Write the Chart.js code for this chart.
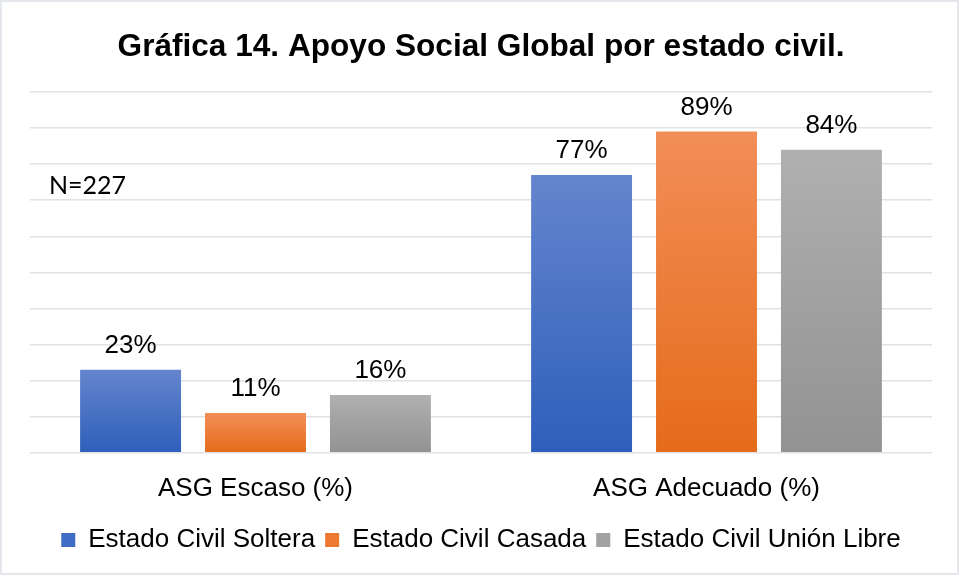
<!DOCTYPE html>
<html>
<head>
<meta charset="utf-8">
<script src="https://cdn.jsdelivr.net/npm/chart.js@4.4.1/dist/chart.umd.min.js"></script>
<style>
  html, body { margin: 0; padding: 0; background: #fff; }
  #wrap { position: relative; width: 959px; height: 575px; }
  #frame { position: absolute; left: 0; top: 0; width: 959px; height: 575px; box-sizing: border-box;
           border: 2px solid #e4e7eb; pointer-events: none; }
</style>
</head>
<body>
<div id="wrap">
  <canvas id="grafico" width="959" height="575"></canvas>
  <div id="frame"></div>
</div>
<script>
const categorias = ["ASG Escaso (%)", "ASG Adecuado (%)"];
const soltera = [23, 77];
const casada = [11, 89];
const unionLibre = [16, 84];
const series = ["Estado Civil Soltera", "Estado Civil Casada", "Estado Civil Unión Libre"];
const muestra = "N=227";

const fuente = "'Liberation Sans', Arial, sans-serif";

// degradado de arriba (claro) hacia abajo (oscuro) en cada barra
function degradado(arriba, abajo) {
    return (c) => {
        const chart = c.chart;
        if (!chart.chartArea || c.type !== 'data') return abajo;
        const y = chart.scales.y;
        const top = y.getPixelForValue(c.raw);
        const base = y.getPixelForValue(0);
        if (!isFinite(top) || top === base) return abajo;
        const g = chart.ctx.createLinearGradient(0, top, 0, base);
        g.addColorStop(0, arriba);
        g.addColorStop(1, abajo);
        return g;
    };
}

const solidos = ["#3f6cc4", "#ed7a30", "#a2a2a2"];

// etiquetas de valor y texto N=227
const etiquetas = {
    id: 'etiquetas',
    afterDatasetsDraw(chart) {
        const ctx = chart.ctx;
        ctx.save();
        ctx.fillStyle = "#000";
        ctx.font = "26px " + fuente;
        ctx.textAlign = "center";
        ctx.textBaseline = "alphabetic";
        chart.data.datasets.forEach((ds, i) => {
            const meta = chart.getDatasetMeta(i);
            meta.data.forEach((bar, j) => {
                ctx.fillText(ds.data[j] + "%", bar.x, bar.y - 17);
            });
        });
        ctx.font = "25px Lato, 'Open Sans', sans-serif";
        ctx.textAlign = "left";
        ctx.textBaseline = "middle";
        ctx.fillText(muestra, 49, 186);
        ctx.restore();
    }
};

let ctx = document.getElementById("grafico").getContext("2d");

new Chart(ctx, {
    type: "bar",
    data: {
        labels: categorias,
        datasets: [{
            label: series[0],
            data: soltera,
            backgroundColor: degradado("#6585cd", "#2d5fba"),
            categoryPercentage: 0.831,
            barPercentage: 0.808
        }, {
            label: series[1],
            data: casada,
            backgroundColor: degradado("#f28e57", "#e56b1a"),
            categoryPercentage: 0.831,
            barPercentage: 0.808
        }, {
            label: series[2],
            data: unionLibre,
            backgroundColor: degradado("#b0b0b0", "#929292"),
            categoryPercentage: 0.831,
            barPercentage: 0.808
        }]
    },
    options: {
        responsive: false,
        animation: false,
        layout: {
            padding: { left: 30, right: 27, top: 0, bottom: 12 }
        },
        plugins: {
            title: {
                display: true,
                text: "Gráfica 14. Apoyo Social Global por estado civil.",
                color: "#000",
                font: { family: fuente, size: 31.6, weight: "bold" },
                padding: { top: 28, bottom: 26 }
            },
            legend: {
                position: "bottom",
                labels: {
                    color: "#000",
                    boxWidth: 14,
                    boxHeight: 14,
                    padding: 10,
                    font: { family: fuente, size: 26 },
                    generateLabels(chart) {
                        return chart.data.datasets.map((ds, i) => ({
                            text: ds.label,
                            fillStyle: solidos[i],
                            strokeStyle: solidos[i],
                            lineWidth: 0,
                            hidden: false,
                            datasetIndex: i,
                            fontColor: "#000"
                        }));
                    }
                }
            },
            tooltip: { enabled: false }
        },
        scales: {
            x: {
                grid: { display: false, drawTicks: false },
                border: { display: false },
                ticks: {
                    color: "#000",
                    padding: 20,
                    font: { family: fuente, size: 26 }
                },
                afterFit(scale) {
                    // acerca las etiquetas del eje a la leyenda
                    scale.height -= 7;
                }
            },
            y: {
                min: 0,
                max: 100,
                grid: {
                    color: "#dfe2e7",
                    lineWidth: 1.5,
                    drawTicks: false
                },
                border: { display: false },
                ticks: { display: false, stepSize: 10 }
            }
        }
    },
    plugins: [etiquetas]
});
</script>
</body>
</html>
